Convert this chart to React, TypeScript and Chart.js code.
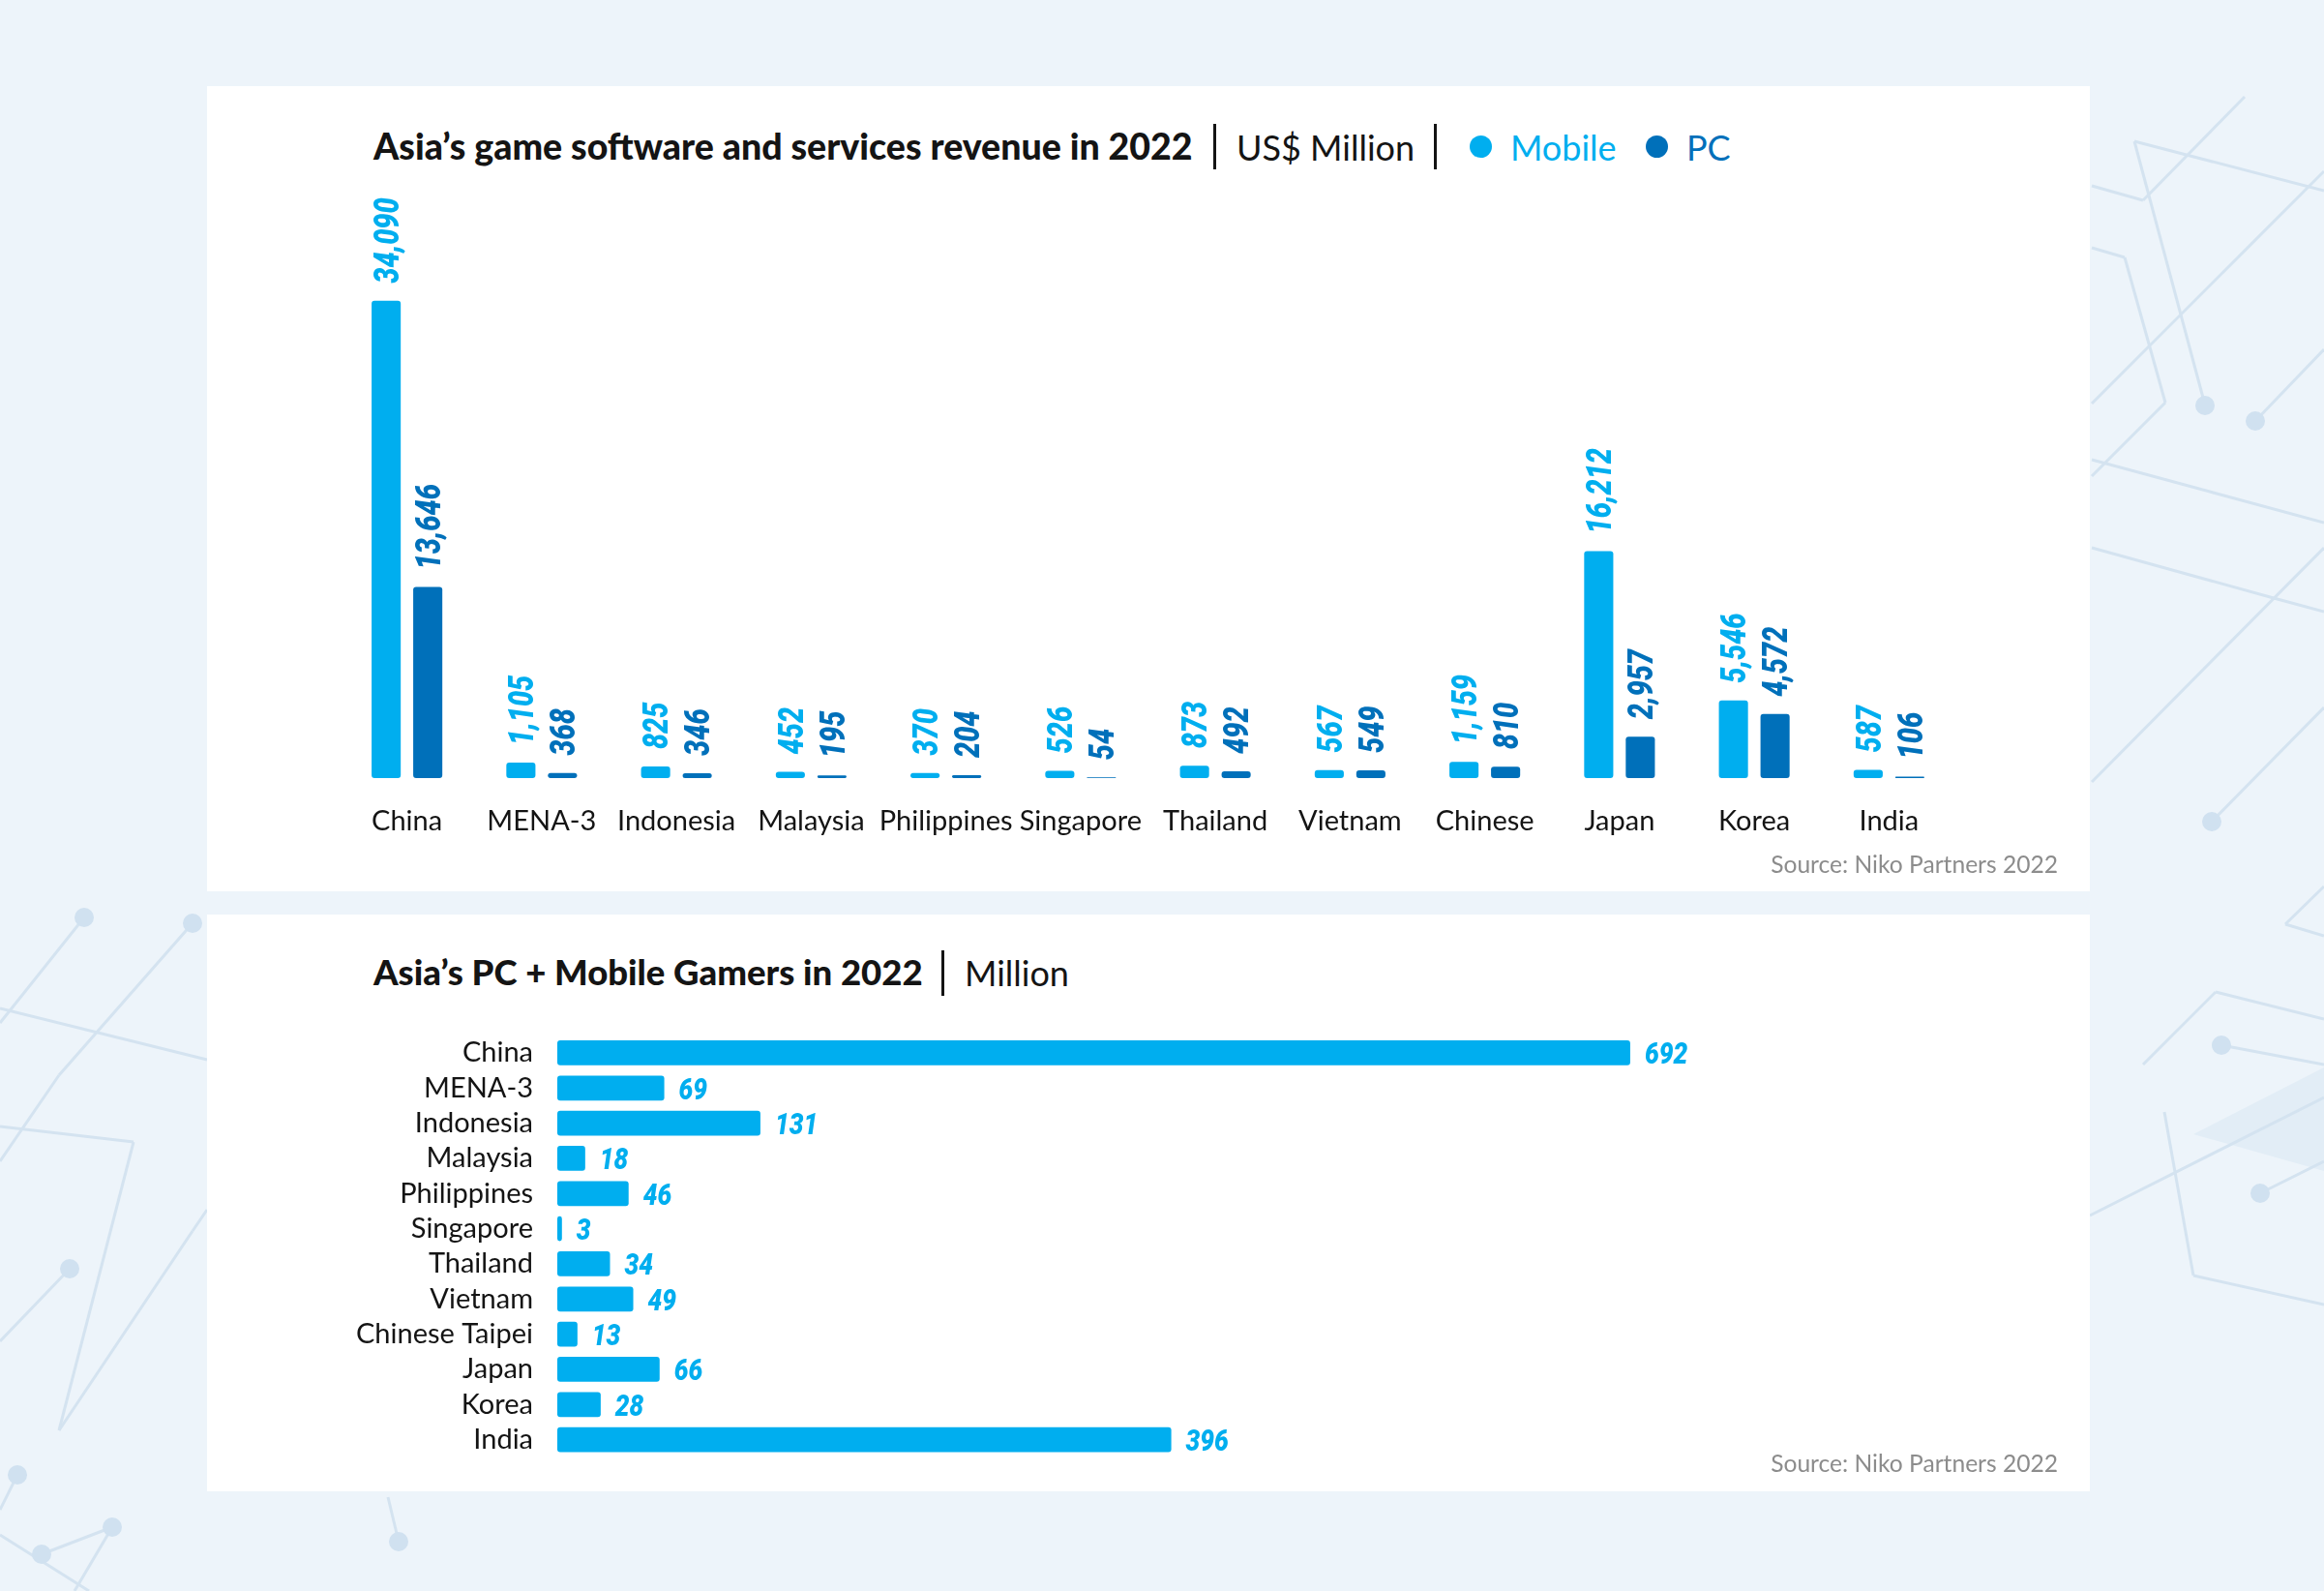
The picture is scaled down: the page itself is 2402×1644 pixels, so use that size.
import React, { useEffect, useRef } from "react";
import { Chart, registerables } from "chart.js";

Chart.register(...registerables);

// ---------- DATA ----------
const revenueCategories = ["China", "MENA-3", "Indonesia", "Malaysia", "Philippines", "Singapore", "Thailand", "Vietnam", "Chinese", "Japan", "Korea", "India"];
const mobileRevenue = [34090, 1105, 825, 452, 370, 526, 873, 567, 1159, 16212, 5546, 587];
const pcRevenue = [13646, 368, 346, 195, 204, 54, 492, 549, 810, 2957, 4572, 106];

const gamerCategories = ["China", "MENA-3", "Indonesia", "Malaysia", "Philippines", "Singapore", "Thailand", "Vietnam", "Chinese Taipei", "Japan", "Korea", "India"];
const gamerMillions = [692, 69, 131, 18, 46, 3, 34, 49, 13, 66, 28, 396];

const revenueTitle = "Asia\u2019s game software and services revenue in 2022";
const revenueUnit = "US$ Million";
const gamersTitle = "Asia\u2019s PC + Mobile Gamers in 2022";
const gamersUnit = "Million";
const sourceText = "Source: Niko Partners 2022";

// ---------- STYLE ----------
const MOBILE = "#00AEEF";
const PC = "#0070BA";
const TEXT = "#141414";

const valueLabelPlugin = {
  id: "valueLabels",
  afterDatasetsDraw(chart: any, _args: any, opts: any) {
    const { ctx } = chart;
    const horizontal = chart.options.indexAxis === "y";
    chart.data.datasets.forEach((ds: any, di: number) => {
      const meta = chart.getDatasetMeta(di);
      meta.data.forEach((el: any, i: number) => {
        const v = ds.data[i];
        const text = Number(v).toLocaleString("en-US");
        const cap = opts.size * 0.711;
        ctx.save();
        ctx.fillStyle = ds.backgroundColor;
        ctx.font = `italic 900 ${opts.size}px Roboto, "DejaVu Sans"`;
        ctx.textAlign = "left";
        ctx.textBaseline = "alphabetic";
        if (horizontal) {
          ctx.translate(el.x + opts.gap, el.y + cap / 2);
          ctx.scale(opts.squeeze, 1);
        } else {
          ctx.translate(el.x + cap / 2, el.y - opts.gap);
          ctx.rotate(-Math.PI / 2);
          ctx.scale(opts.squeeze, 1);
        }
        ctx.fillText(text, 0, 0);
        ctx.restore();
      });
    });
  },
};

function RevenueChart() {
  const ref = useRef<HTMLCanvasElement>(null);
  useEffect(() => {
    const chart = new Chart(ref.current as HTMLCanvasElement, {
      type: "bar",
      data: {
        labels: revenueCategories,
        datasets: [
          { label: "Mobile", data: mobileRevenue, backgroundColor: MOBILE, borderRadius: 3, borderSkipped: false, categoryPercentage: 0.6176, barPercentage: 0.7 },
          { label: "PC", data: pcRevenue, backgroundColor: PC, borderRadius: 3, borderSkipped: false, categoryPercentage: 0.6176, barPercentage: 0.7 },
        ],
      },
      options: {
        animation: false,
        responsive: false,
        maintainAspectRatio: false,
        layout: { padding: { top: 45.2, left: 0, right: 0, bottom: 0 } },
        plugins: {
          legend: { display: false },
          tooltip: { enabled: false },
          valueLabels: { size: 36, squeeze: 0.8, gap: 18 },
        } as any,
        scales: {
          x: {
            grid: { display: false, drawTicks: false },
            border: { display: false },
            ticks: { color: TEXT, font: { family: "Lato", size: 29 }, padding: 27, autoSkip: false, maxRotation: 0, minRotation: 0 },
            afterFit: (s: any) => { s.height = 80; s.paddingLeft = 0; s.paddingRight = 0; },
          },
          y: { display: false, min: 0, max: 40000 },
        },
      },
      plugins: [valueLabelPlugin],
    } as any);
    (document as any).fonts?.load?.("29px Lato").then(() => chart.update()).catch(() => {});
    return () => chart.destroy();
  }, []);
  return <canvas ref={ref} width={1671} height={704} style={{ position: "absolute", left: 351, top: 180, width: 1671, height: 704 }} />;
}

function GamersChart() {
  const ref = useRef<HTMLCanvasElement>(null);
  useEffect(() => {
    const chart = new Chart(ref.current as HTMLCanvasElement, {
      type: "bar",
      data: {
        labels: gamerCategories,
        datasets: [
          { label: "Gamers", data: gamerMillions, backgroundColor: MOBILE, borderRadius: 3, borderSkipped: false, categoryPercentage: 1, barPercentage: 0.707 },
        ],
      },
      options: {
        indexAxis: "y",
        animation: false,
        responsive: false,
        maintainAspectRatio: false,
        layout: { padding: { top: 29.8, left: 0, right: 302, bottom: 14.2 } },
        plugins: {
          legend: { display: false },
          tooltip: { enabled: false },
          valueLabels: { size: 32, squeeze: 0.82, gap: 15 },
        } as any,
        scales: {
          x: { display: false, min: 0, max: 800 },
          y: {
            grid: { display: false, drawTicks: false },
            border: { display: false },
            ticks: { color: TEXT, font: { family: "Lato", size: 29 }, padding: 25, autoSkip: false },
            afterFit: (s: any) => { s.width = 362; s.paddingTop = 0; s.paddingBottom = 0; },
          },
        },
      },
      plugins: [valueLabelPlugin],
    } as any);
    (document as any).fonts?.load?.("29px Lato").then(() => chart.update()).catch(() => {});
    return () => chart.destroy();
  }, []);
  return <canvas ref={ref} width={1946} height={480} style={{ position: "absolute", left: 214, top: 1040, width: 1946, height: 480 }} />;
}

const LINE = "#D4E3F0";
function Decor() {
  const lines: number[][] = [
    [2206, 146, 2402, 197], [2206, 146, 2277, 411], [2331, 435, 2402, 361], [2162, 417, 2402, 177],
    [2162, 256, 2196, 266], [2196, 266, 2238, 416], [2238, 416, 2162, 492], [2162, 475, 2402, 540],
    [2162, 566, 2350, 618], [2350, 618, 2402, 632], [2162, 808, 2402, 566], [2286, 849, 2402, 731],
    [2362, 955, 2402, 916], [2362, 955, 2402, 967], [2215, 1100, 2290, 1025], [2290, 1025, 2402, 1053],
    [2296, 1080, 2402, 1100], [2237, 1149, 2267, 1318], [2267, 1318, 2402, 1348], [2160, 1256, 2402, 1134],
    [2336, 1233, 2402, 1200], [2162, 192, 2215, 207], [2215, 207, 2320, 100],
    [87, 948, 0, 1057], [199, 954, 61, 1111], [61, 1111, 0, 1200], [0, 1042, 214, 1095], [0, 1164, 138, 1180],
    [138, 1180, 61, 1478], [72, 1311, 0, 1386], [61, 1478, 199, 1272], [43, 1606, 116, 1578], [116, 1578, 77, 1644],
    [412, 1593, 401, 1547], [0, 1586, 92, 1644], [18, 1524, 0, 1560], [199, 1272, 214, 1250],
  ];
  const dots: number[][] = [[2279, 419], [2331, 435], [2286, 849], [2296, 1080], [2336, 1233], [87, 948], [199, 954], [72, 1311], [18, 1524], [43, 1606], [116, 1578], [412, 1593]];
  return (
    <svg width={2402} height={1644} style={{ position: "absolute", left: 0, top: 0 }}>
      <polygon points="2267,1172 2402,1103 2402,1210" fill="#E2EDF6" />
      {lines.map((l, i) => (
        <line key={i} x1={l[0]} y1={l[1]} x2={l[2]} y2={l[3]} stroke={LINE} strokeWidth={3} />
      ))}
      {dots.map((d, i) => (
        <circle key={i} cx={d[0]} cy={d[1]} r={10} fill="#D0E1F0" />
      ))}
    </svg>
  );
}

const titleFont: React.CSSProperties = { position: "absolute", fontFamily: "Lato", fontSize: 36, lineHeight: "44px", whiteSpace: "nowrap", color: TEXT };
const sep = (left: number, top: number): React.CSSProperties => ({ position: "absolute", left, top, width: 3, height: 47, background: TEXT });
const dot = (cx: number, cy: number, color: string): React.CSSProperties => ({ position: "absolute", left: cx - 11.5, top: cy - 11.5, width: 23, height: 23, borderRadius: "50%", background: color });

export default function App() {
  return (
    <div style={{ position: "absolute", left: 0, top: 0, width: 2402, height: 1644, background: "#EDF4FA", overflow: "hidden", fontFamily: "Lato" }}>
      <Decor />
      <div style={{ position: "absolute", left: 214, top: 89, width: 1946, height: 832, background: "#FFFFFF" }} />
      <div style={{ position: "absolute", left: 214, top: 945, width: 1946, height: 596, background: "#FFFFFF" }} />

      {/* top title + legend */}
      <div style={{ ...titleFont, left: 386, top: 129, fontSize: 37.5, fontWeight: 900 }}>{revenueTitle}</div>
      <div style={sep(1254, 128)} />
      <div style={{ ...titleFont, left: 1278, top: 130 }}>{revenueUnit}</div>
      <div style={sep(1482, 128)} />
      <div style={dot(1530, 151, MOBILE)} />
      <div style={{ ...titleFont, left: 1561, top: 130, color: MOBILE }}>Mobile</div>
      <div style={dot(1712, 151, PC)} />
      <div style={{ ...titleFont, left: 1743, top: 130, color: PC }}>PC</div>

      <RevenueChart />
      <div style={{ position: "absolute", right: 2402 - 2127, top: 878, fontFamily: "Lato", fontSize: 24.6, lineHeight: "30px", color: "#8C8C8C", whiteSpace: "nowrap" }}>{sourceText}</div>

      {/* bottom title */}
      <div style={{ ...titleFont, left: 386, top: 982, fontSize: 36.5, fontWeight: 900 }}>{gamersTitle}</div>
      <div style={sep(973, 982)} />
      <div style={{ ...titleFont, left: 997, top: 983 }}>{gamersUnit}</div>

      <GamersChart />
      <div style={{ position: "absolute", right: 2402 - 2127, top: 1497, fontFamily: "Lato", fontSize: 24.6, lineHeight: "30px", color: "#8C8C8C", whiteSpace: "nowrap" }}>{sourceText}</div>
    </div>
  );
}
